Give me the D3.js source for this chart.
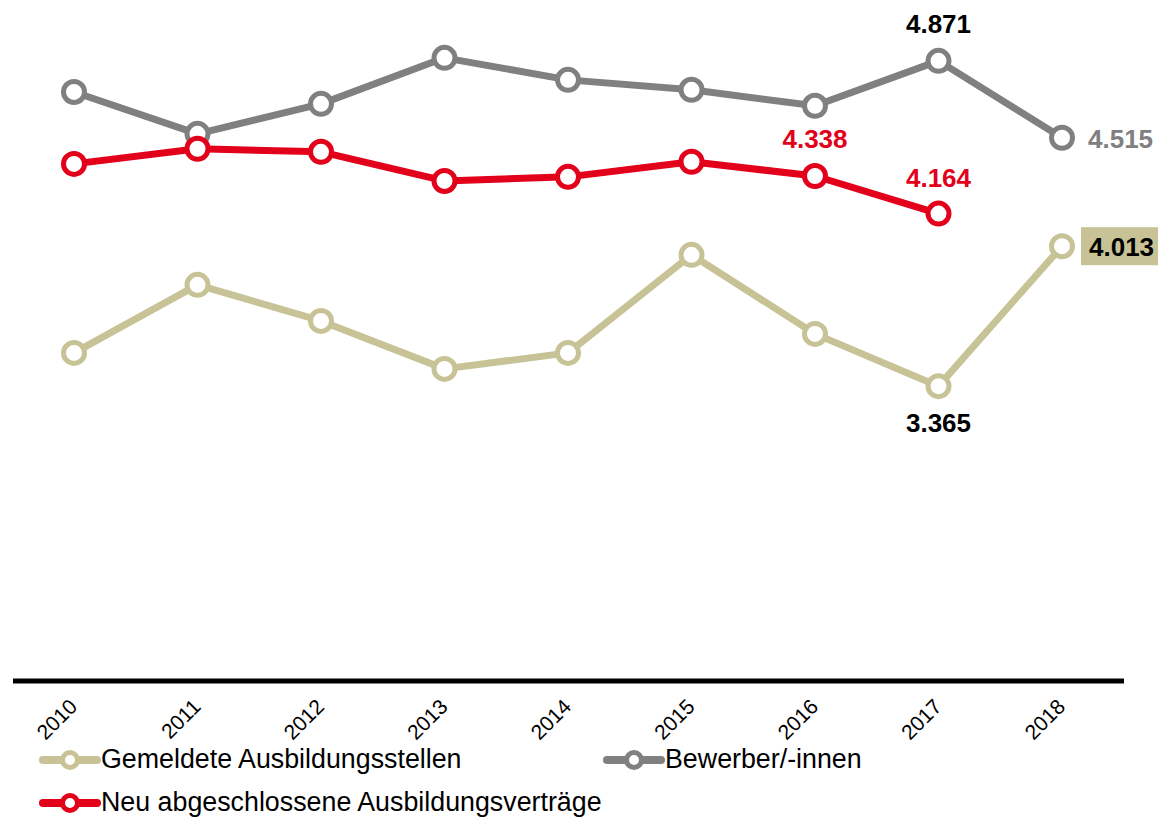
<!DOCTYPE html>
<html>
<head>
<meta charset="utf-8">
<script src="https://cdn.jsdelivr.net/npm/d3@7"></script>
<style>
  body { margin: 0; background: #fff; }
  svg text { font-family: "Liberation Sans", Arial, sans-serif; }
</style>
</head>
<body>
<div id="chart"></div>
<script>
// data (thousands)
var years = ["2010", "2011", "2012", "2013", "2014", "2015", "2016", "2017", "2018"];
var stellen = [3.519, 3.834, 3.667, 3.445, 3.519, 3.973, 3.607, 3.365, 4.013];
var bewerber = [4.727, 4.533, 4.672, 4.885, 4.783, 4.737, 4.663, 4.871, 4.515];
var vertraege = [4.394, 4.464, 4.450, 4.315, 4.334, 4.404, 4.338, 4.164, null];

var svgWidth = 1158, svgHeight = 817;

var svg = d3.select("#chart").append("svg")
  .attr("width", svgWidth)
  .attr("height", svgHeight);

// scales
var xScale = d3.scalePoint()
  .domain(years)
  .range([74, 1062]);

var yScale = d3.scaleLinear()
  .domain([2, 5])
  .range([681, 33]);

// x axis: thick baseline, rotated labels
var xAxis = d3.axisBottom(xScale).tickSize(0).tickPadding(0);
var axisG = svg.append("g")
  .attr("transform", "translate(0,681)")
  .call(xAxis);
axisG.select(".domain").remove();
axisG.selectAll("text")
  .style("font-family", "'Liberation Sans', Arial, sans-serif")
  .style("font-size", "21px")
  .attr("fill", "#000")
  .attr("text-anchor", "end")
  .attr("dy", 0)
  .attr("y", 0)
  .attr("transform", "translate(4,27) rotate(-45)");

svg.append("line")
  .attr("x1", 13).attr("x2", 1124)
  .attr("y1", 681).attr("y2", 681)
  .attr("stroke", "#000")
  .attr("stroke-width", 5);

var series = [
  { name: "Gemeldete Ausbildungsstellen", values: stellen, color: "#c8c396" },
  { name: "Bewerber/-innen", values: bewerber, color: "#808080" },
  { name: "Neu abgeschlossene Ausbildungsverträge", values: vertraege, color: "#e2001a" }
];

var line = d3.line()
  .defined(d => d.v != null)
  .x(d => xScale(d.year))
  .y(d => yScale(d.v));

series.forEach(function(s) {
  var pts = years.map((y, i) => ({ year: y, v: s.values[i] }));
  svg.append("path")
    .datum(pts)
    .attr("d", line)
    .attr("fill", "none")
    .attr("stroke", s.color)
    .attr("stroke-width", 7)
    .attr("stroke-linejoin", "round");
  svg.selectAll(null)
    .data(pts.filter(d => d.v != null))
    .enter()
    .append("circle")
    .attr("cx", d => xScale(d.year))
    .attr("cy", d => yScale(d.v))
    .attr("r", 10.5)
    .attr("fill", "#fff")
    .attr("stroke", s.color)
    .attr("stroke-width", 5);
});

// value labels
function fmt(v) { return d3.format(".3f")(v); }

function label(val, x, y, color, anchor) {
  return svg.append("text")
    .attr("x", x).attr("y", y)
    .attr("text-anchor", anchor || "middle")
    .attr("font-size", 26)
    .attr("font-weight", "bold")
    .attr("fill", color)
    .text(fmt(val));
}

label(bewerber[7], xScale("2017"), yScale(bewerber[7]) - 28, "#000");
label(bewerber[8], xScale("2018") + 26, yScale(bewerber[8]) + 10, "#808080", "start");
label(vertraege[6], xScale("2016"), yScale(vertraege[6]) - 28, "#e2001a");
label(vertraege[7], xScale("2017"), yScale(vertraege[7]) - 27, "#e2001a");
label(stellen[7], xScale("2017"), yScale(stellen[7]) + 46, "#000");

// highlighted last value
svg.append("rect")
  .attr("x", xScale("2018") + 19)
  .attr("y", yScale(stellen[8]) - 19)
  .attr("width", 80)
  .attr("height", 38)
  .attr("fill", "#c8c396");
label(stellen[8], xScale("2018") + 27, yScale(stellen[8]) + 10, "#000", "start");

// legend
var legendItems = [
  { s: series[0], x: 41, y: 760 },
  { s: series[1], x: 605, y: 760 },
  { s: series[2], x: 41, y: 803 }
];
legendItems.forEach(function(d) {
  var g = svg.append("g").attr("transform", `translate(${d.x},${d.y})`);
  g.append("line")
    .attr("x1", 2).attr("x2", 56)
    .attr("stroke", d.s.color)
    .attr("stroke-width", 8)
    .attr("stroke-linecap", "round");
  g.append("circle")
    .attr("cx", 29).attr("r", 7.5)
    .attr("fill", "#fff")
    .attr("stroke", d.s.color)
    .attr("stroke-width", 5);
  g.append("text")
    .attr("x", 60).attr("y", 8)
    .attr("font-size", 26.8)
    .attr("fill", "#000")
    .text(d.s.name);
});
</script>
</body>
</html>
